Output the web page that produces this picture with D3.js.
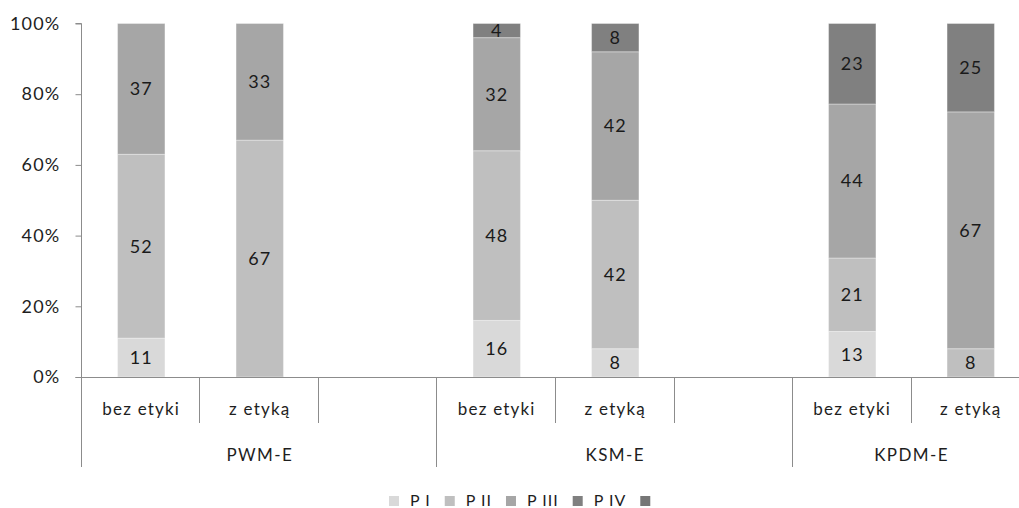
<!DOCTYPE html>
<html>
<head>
<meta charset="utf-8">
<script src="https://cdn.jsdelivr.net/npm/d3@7"></script>
<style>
  html, body { margin: 0; padding: 0; background: #fff; }
  svg text { font-family: Lato, "Open Sans", sans-serif; }
</style>
</head>
<body>
<svg id="chart" width="1019" height="508"></svg>
<script>
// ---- data ----
const groups = ["PWM-E", "KSM-E", "KPDM-E"];
const slotGroup = ["PWM-E", "PWM-E", "PWM-E", "KSM-E", "KSM-E", "KSM-E", "KPDM-E", "KPDM-E"];
const slotLabel = ["bez etyki", "z etyką", "", "bez etyki", "z etyką", "", "bez etyki", "z etyką"];
const seriesNames = ["P I", "P II", "P III", "P IV", ""];
const pI   = [11, 0,  null, 16, 8,  null, 13, 0];
const pII  = [52, 67, null, 48, 42, null, 21, 8];
const pIII = [37, 33, null, 32, 42, null, 44, 67];
const pIV  = [0,  0,  null, 4,  8,  null, 23, 25];
const pV   = [0,  0,  null, 0,  0,  null, 0,  0];
const yTicks = [0, 0.2, 0.4, 0.6, 0.8, 1.0];
const colors = ["#d9d9d9", "#bfbfbf", "#a6a6a6", "#808080", "#767676"];

(function () {
// ---- build table ----
const seriesVals = [pI, pII, pIII, pIV, pV];
const rows = slotLabel.map((lab, i) => {
  const r = { id: i, blank: pI[i] === null };
  seriesNames.forEach((s, k) => { r["s" + k] = seriesVals[k][i] || 0; });
  return r;
});
const keys = seriesNames.map((s, k) => "s" + k);
const barRows = rows.filter(r => !r.blank);
const stack = d3.stack().keys(keys).offset(d3.stackOffsetExpand);
const stacked = stack(barRows);

const svg = d3.select("#chart");
const mLeft = 82, mRight = 1030, mTop = 23.5, mBottom = 377;

const x = d3.scaleBand().domain(rows.map(r => r.id)).range([mLeft, mRight])
  .paddingInner(0.6).paddingOuter(0.3);
const y = d3.scaleLinear().domain([0, 1]).range([mBottom, mTop]);
const step = x.step();

const axisColor = "#8c8c8c";
const textColor = "#1e1e1e";

// bars
const layer = svg.append("g").selectAll("g").data(stacked).join("g")
  .attr("fill", (d, i) => colors[i]);
layer.selectAll("rect").data(d => d.filter(p => p[1] - p[0] > 0)).join("rect")
  .attr("x", p => x(p.data.id))
  .attr("width", x.bandwidth())
  .attr("y", p => y(p[1]))
  .attr("height", p => y(p[0]) - y(p[1]))
  .attr("stroke", "rgba(255,255,255,0.35)")
  .attr("stroke-width", 1);

// data labels
layer.selectAll("text").data((d, i) => d.filter(p => p.data["s" + i] > 0).map(p => ({p, k: i})))
  .join("text")
  .attr("x", o => x(o.p.data.id) + x.bandwidth() / 2)
  .attr("y", o => y((o.p[0] + o.p[1]) / 2))
  .attr("dy", "0.35em")
  .attr("text-anchor", "middle")
  .attr("font-size", 18)
  .attr("letter-spacing", 1)
  .attr("fill", "#1a1a1a")
  .text(o => o.p.data[keys[o.k]]);

// y axis
const yAxis = d3.axisLeft(y).tickValues(yTicks).tickFormat(d3.format(".0%")).tickSize(6).tickPadding(15);
const gy = svg.append("g").attr("transform", `translate(${mLeft - 0.5},0)`).call(yAxis);
gy.select(".domain").attr("stroke", axisColor).attr("d", `M-6,${y(1)}H0V${y(0)}`);
gy.selectAll(".tick line").attr("stroke", axisColor);
gy.selectAll(".tick text").attr("font-size", 18).attr("letter-spacing", 1.2).attr("fill", textColor)
  .style("font-family", "Lato, sans-serif");

// x axis baseline
const gx = svg.append("g");
gx.append("line").attr("x1", mLeft - 6.5).attr("x2", 1019).attr("y1", mBottom + 0.5).attr("y2", mBottom + 0.5)
  .attr("stroke", axisColor);

// level-1 separators & labels
const boundaries = rows.map(r => x(r.id) - step * 0.3).concat([mRight]);
boundaries.forEach((bx, i) => {
  const isGroup = i === 0 || i === 3 || i === 6 || i === 8;
  gx.append("line").attr("x1", Math.round(bx) - 0.5).attr("x2", Math.round(bx) - 0.5)
    .attr("y1", mBottom).attr("y2", isGroup ? 467 : 423).attr("stroke", axisColor);
});
rows.forEach((r, i) => {
  gx.append("text").attr("x", x(r.id) + x.bandwidth() / 2).attr("y", 409)
    .attr("dy", "0.35em").attr("text-anchor", "middle").attr("font-size", 17).attr("letter-spacing", 1.2)
    .attr("fill", textColor).text(slotLabel[i]);
});
// level-2 group labels
groups.forEach(g => {
  const ids = rows.filter((r, i) => slotGroup[i] === g).map(r => r.id);
  const x0 = x(ids[0]) - step * 0.3, x1 = x(ids[ids.length - 1]) - step * 0.3 + step;
  gx.append("text").attr("x", (x0 + x1) / 2).attr("y", 455)
    .attr("dy", "0.35em").attr("text-anchor", "middle").attr("font-size", 17).attr("letter-spacing", 1.4)
    .attr("fill", textColor).text(g);
});

// legend
const lg = svg.append("g");
let lx = 389;
seriesNames.forEach((s, i) => {
  lg.append("rect").attr("x", lx).attr("y", 496).attr("width", 10).attr("height", 10).attr("fill", colors[i]);
  const t = lg.append("text").attr("x", lx + 21).attr("y", 500).attr("dy", "0.35em")
    .attr("font-size", 16).attr("letter-spacing", 1).attr("fill", textColor).text(s);
  const w = s ? t.node().getComputedTextLength() : 0;
  lx = lx + 21 + w + 14;
});
})();
</script>
</body>
</html>
